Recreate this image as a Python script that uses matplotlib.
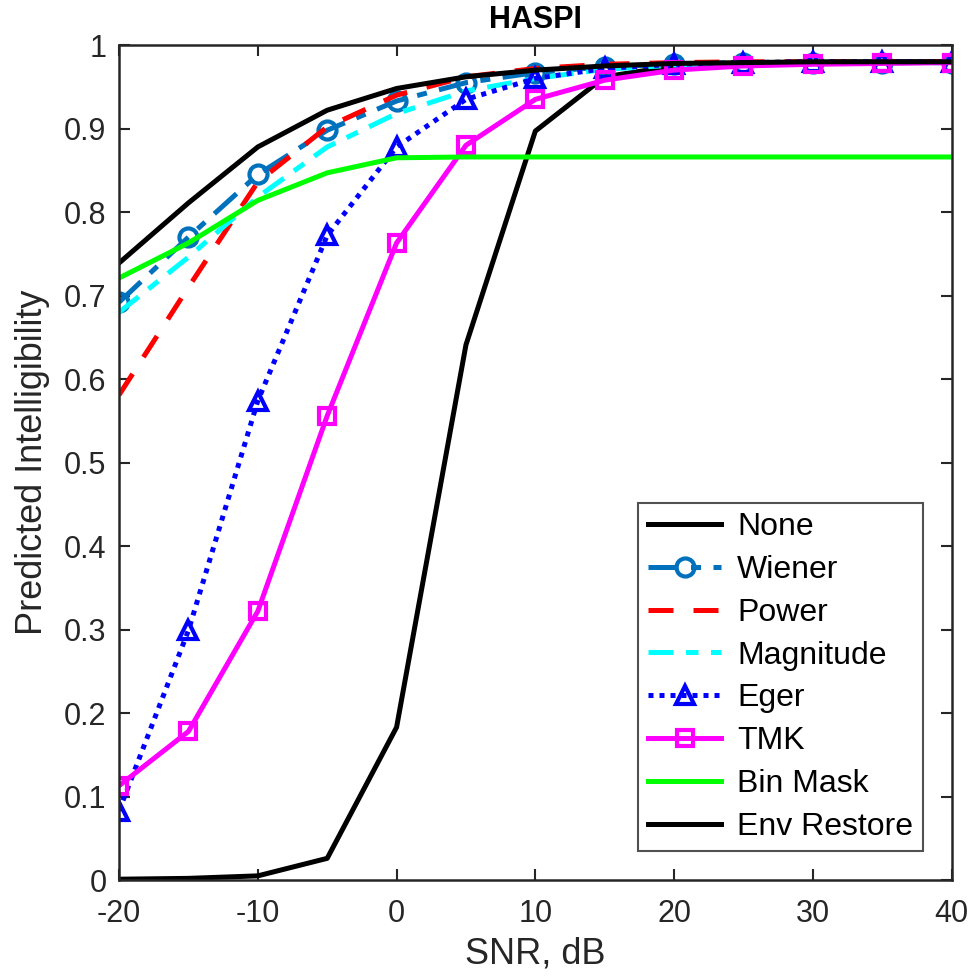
import matplotlib
matplotlib.use("Agg")
import matplotlib.pyplot as plt

plt.rcParams['font.family'] = ['Liberation Sans', 'DejaVu Sans']

snr = [-20, -15, -10, -5, 0, 5, 10, 15, 20, 25, 30, 35, 40]
none_v   = [0.001, 0.002, 0.005, 0.026, 0.183, 0.641, 0.897, 0.962, 0.975, 0.978, 0.979, 0.980, 0.980]
wiener   = [0.692, 0.770, 0.845, 0.898, 0.933, 0.955, 0.967, 0.974, 0.977, 0.978, 0.979, 0.979, 0.979]
power    = [0.581, 0.710, 0.836, 0.902, 0.940, 0.962, 0.972, 0.977, 0.979, 0.980, 0.980, 0.980, 0.980]
magnit   = [0.680, 0.746, 0.818, 0.878, 0.918, 0.945, 0.960, 0.971, 0.976, 0.978, 0.978, 0.979, 0.979]
eger     = [0.083, 0.299, 0.574, 0.772, 0.878, 0.935, 0.960, 0.972, 0.977, 0.979, 0.980, 0.980, 0.980]
tmk      = [0.113, 0.178, 0.322, 0.556, 0.763, 0.880, 0.935, 0.958, 0.970, 0.975, 0.977, 0.978, 0.979]
binmask  = [0.721, 0.763, 0.814, 0.847, 0.865, 0.866, 0.866, 0.866, 0.866, 0.866, 0.866, 0.866, 0.866]
envrest  = [0.739, 0.811, 0.878, 0.922, 0.948, 0.962, 0.970, 0.975, 0.978, 0.979, 0.980, 0.980, 0.980]

labels = ['None', 'Wiener', 'Power', 'Magnitude', 'Eger', 'TMK', 'Bin Mask', 'Env Restore']
xticks = [-20, -10, 0, 10, 20, 30, 40]
yticks = [0, 0.1, 0.2, 0.3, 0.4, 0.5, 0.6, 0.7, 0.8, 0.9, 1]

fig = plt.figure(figsize=(9.76, 9.80), dpi=100)
ax = fig.add_axes([0.122, 0.102, 0.853, 0.852])

lw = 3.6
ms = 13
mew = 3
ax.plot(snr, none_v, color='black', lw=lw, ls='-', label=labels[0])
ax.plot(snr, wiener, color='#0072BD', lw=lw, ls=(0, (6, 2.5, 2, 2.5)), marker='o', ms=ms, mew=mew,
        mfc='none', label=labels[1])
ax.plot(snr, power, color='red', lw=lw, ls=(0, (5, 4)), label=labels[2])
ax.plot(snr, magnit, color='cyan', lw=lw, ls=(0, (5, 2.5, 2.5, 2.5)), label=labels[3])
ax.plot(snr, eger, color='blue', lw=lw, ls=(0, (1, 1.2)), marker='^', ms=ms, mew=mew,
        mfc='none', label=labels[4])
ax.plot(snr, tmk, color='magenta', lw=lw, ls='-', marker='s', ms=ms - 1.5, mew=mew,
        mfc='none', label=labels[5])
ax.plot(snr, binmask, color='#00FF00', lw=lw, ls='-', label=labels[6])
ax.plot(snr, envrest, color='black', lw=lw, ls='-', label=labels[7])

ax.set_xlim(-20, 40)
ax.set_ylim(0, 1)
ax.set_xticks(xticks)
ax.set_xticklabels([str(t) for t in xticks])
ax.set_yticks(yticks)
ax.set_yticklabels(['0'] + [f'{t:g}' for t in yticks[1:-1]] + ['1'])
ax.tick_params(direction='in', top=True, right=True, length=8, width=1.5,
               labelsize=22, colors='#262626')
ax.tick_params(axis='x', pad=14)
ax.tick_params(axis='y', pad=9)
for s in ax.spines.values():
    s.set_linewidth(1.8)
    s.set_color('#262626')

ax.set_xlabel('SNR, dB', fontsize=26, color='#262626', labelpad=5)
ax.set_ylabel('Predicted Intelligibility', fontsize=26, color='#262626', labelpad=10)
ax.set_title('HASPI', fontsize=22, fontweight='bold', pad=12)

leg = ax.legend(loc='lower right', fontsize=23, frameon=True, fancybox=False,
                edgecolor='#262626', handlelength=2.3, labelspacing=0.4,
                borderaxespad=0.9, handletextpad=0.5, borderpad=0.3)
leg.get_frame().set_linewidth(1.5)

fig.savefig('out.png', dpi=100)
